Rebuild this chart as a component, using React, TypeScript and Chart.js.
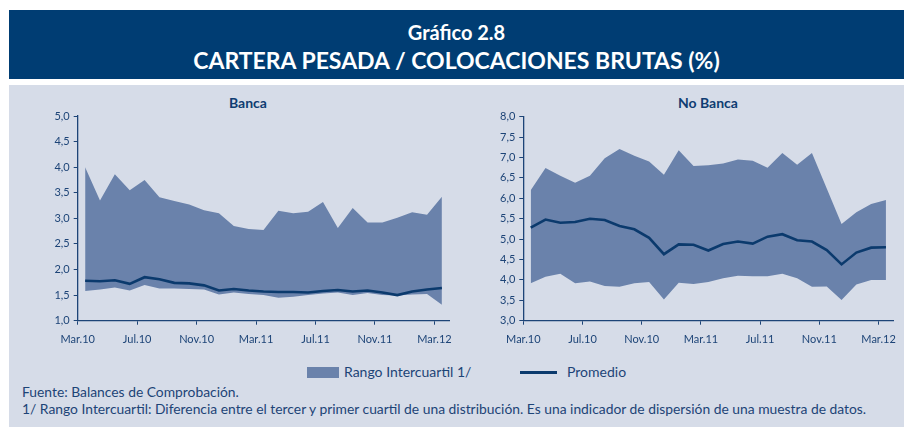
import React, { useEffect, useRef } from "react";
import { Chart, registerables } from "chart.js";

Chart.register(...registerables);

const tickLabels = ["Mar.10", "Jul.10", "Nov.10", "Mar.11", "Jul.11", "Nov.11", "Mar.12"];
const months = [
  "Mar.10", "Abr.10", "May.10", "Jun.10", "Jul.10", "Ago.10", "Sep.10", "Oct.10", "Nov.10", "Dic.10",
  "Ene.11", "Feb.11", "Mar.11", "Abr.11", "May.11", "Jun.11", "Jul.11", "Ago.11", "Sep.11", "Oct.11",
  "Nov.11", "Dic.11", "Ene.12", "Feb.12", "Mar.12",
];

const bancaQ3 = [4.0, 3.35, 3.86, 3.55, 3.75, 3.41, 3.34, 3.27, 3.16, 3.1, 2.85, 2.79, 2.77, 3.15, 3.1, 3.13, 3.32, 2.81, 3.2, 2.92, 2.92, 3.01, 3.12, 3.07, 3.42];
const bancaQ1 = [1.58, 1.61, 1.65, 1.59, 1.7, 1.63, 1.63, 1.62, 1.61, 1.51, 1.55, 1.52, 1.5, 1.45, 1.47, 1.5, 1.53, 1.55, 1.5, 1.54, 1.5, 1.49, 1.51, 1.52, 1.31];
const bancaMean = [1.78, 1.77, 1.79, 1.72, 1.85, 1.81, 1.74, 1.73, 1.69, 1.59, 1.62, 1.59, 1.57, 1.56, 1.56, 1.55, 1.58, 1.6, 1.57, 1.59, 1.55, 1.5, 1.57, 1.61, 1.64];

const noBancaQ3 = [6.2, 6.74, 6.55, 6.38, 6.55, 6.98, 7.21, 7.04, 6.9, 6.58, 7.18, 6.79, 6.81, 6.85, 6.95, 6.92, 6.75, 7.11, 6.82, 7.11, 6.24, 5.37, 5.66, 5.86, 5.96];
const noBancaQ1 = [3.92, 4.08, 4.15, 3.92, 3.96, 3.85, 3.83, 3.92, 3.95, 3.52, 3.93, 3.9, 3.95, 4.04, 4.1, 4.09, 4.09, 4.15, 4.04, 3.83, 3.84, 3.51, 3.89, 4.0, 4.0];
const noBancaMean = [5.28, 5.48, 5.4, 5.42, 5.5, 5.47, 5.32, 5.24, 5.03, 4.63, 4.87, 4.86, 4.72, 4.88, 4.94, 4.89, 5.06, 5.12, 4.97, 4.94, 4.73, 4.38, 4.67, 4.79, 4.8];

const HEADER = "#003d73";
const PANEL = "#d6dce8";
const FILL = "#6a82ab";
const LINE = "#0b3a6d";
const TEXT = "#1d4477";
const FONT = "Lato, 'Open Sans', sans-serif";

type Cfg = {
  q3: number[];
  q1: number[];
  mean: number[];
  yMin: number;
  yMax: number;
  yWidth: number;
  padTop: number;
  padRight: number;
  xHeight: number;
};

function makeChart(canvas: HTMLCanvasElement, c: Cfg) {
  const pts = (arr: number[]) => arr.map((v, i) => ({ x: i, y: v }));
  const tickVals = tickLabels.map((_, i) => -0.5 + 4 * i);
  return new Chart(canvas, {
    type: "line",
    data: {
      datasets: [
        {
          label: "Promedio",
          data: pts(c.mean),
          borderColor: LINE,
          borderWidth: 2.6,
          pointRadius: 0,
          fill: false,
          tension: 0,
        },
        {
          label: "Rango Intercuartil 1/",
          data: pts(c.q3),
          borderWidth: 0,
          borderColor: FILL,
          backgroundColor: FILL,
          pointRadius: 0,
          fill: "+1",
          tension: 0,
        },
        {
          label: "Q1",
          data: pts(c.q1),
          borderWidth: 0,
          borderColor: FILL,
          pointRadius: 0,
          fill: false,
          tension: 0,
        },
      ],
    },
    options: {
      animation: false,
      responsive: false,
      maintainAspectRatio: false,
      layout: { padding: { top: c.padTop, right: c.padRight, left: 0, bottom: 0 } },
      plugins: { legend: { display: false }, tooltip: { enabled: false }, title: { display: false } },
      scales: {
        x: {
          type: "linear",
          min: -0.5,
          max: 24.5,
          afterBuildTicks: (s: any) => {
            s.ticks = tickVals.map((v) => ({ value: v }));
          },
          afterFit: (s: any) => {
            s.height = c.xHeight;
          },
          grid: { drawOnChartArea: false, drawTicks: true, tickLength: 4, color: TEXT, lineWidth: 1 },
          border: { display: true, color: TEXT, width: 1.3 },
          ticks: {
            autoSkip: false,
            maxRotation: 0,
            padding: 8,
            color: TEXT,
            font: { family: FONT, size: 11 },
            callback: (v: any) => tickLabels[Math.round((Number(v) + 0.5) / 4)] ?? "",
          },
        },
        y: {
          min: c.yMin,
          max: c.yMax,
          afterFit: (s: any) => {
            s.width = c.yWidth;
          },
          grid: { drawOnChartArea: false, drawTicks: true, tickLength: 4, color: TEXT, lineWidth: 1 },
          border: { display: true, color: TEXT, width: 1.3 },
          ticks: {
            stepSize: 0.5,
            padding: 4,
            color: TEXT,
            font: { family: FONT, size: 11 },
            callback: (v: any) => Number(v).toFixed(1).replace(".", ","),
          },
        },
      },
    },
  } as any);
}

function Panel(props: { left: number; width: number; title: string; titleX: number; cfg: Cfg }) {
  const ref = useRef<HTMLCanvasElement>(null);
  useEffect(() => {
    if (!ref.current) return;
    const ch = makeChart(ref.current, props.cfg);
    return () => ch.destroy();
  }, []);
  return (
    <>
      <div
        style={{
          position: "absolute",
          left: props.titleX - 100,
          width: 200,
          top: 94,
          textAlign: "center",
          fontFamily: FONT,
          fontWeight: 700,
          fontSize: 14,
          color: "#0f3d72",
        }}
      >
        {props.title}
      </div>
      <canvas
        ref={ref}
        width={props.width}
        height={260}
        style={{ position: "absolute", left: props.left, top: 95, width: props.width, height: 260 }}
      />
    </>
  );
}

export default function App() {
  return (
    <div style={{ position: "absolute", left: 0, top: 0, width: 904, height: 427, background: "#ffffff", overflow: "hidden" }}>
      <div
        style={{
          position: "absolute",
          left: 9,
          top: 10,
          width: 895,
          height: 69,
          background: HEADER,
          color: "#ffffff",
          fontFamily: FONT,
          fontWeight: 700,
          textAlign: "center",
        }}
      >
        <div style={{ position: "absolute", left: 0, right: 0, top: 10, fontSize: 20, lineHeight: "24px" }}>Gráfico 2.8</div>
        <div style={{ position: "absolute", left: 0, right: 0, top: 36, fontSize: 23, lineHeight: "28px" }}>
          CARTERA PESADA / COLOCACIONES BRUTAS (%)
        </div>
      </div>
      <div style={{ position: "absolute", left: 9, top: 85, width: 895, height: 342, background: PANEL }} />
      <Panel
        left={20}
        width={440}
        title="Banca"
        titleX={248}
        cfg={{ q3: bancaQ3, q1: bancaQ1, mean: bancaMean, yMin: 1, yMax: 5, yWidth: 57.7, padTop: 21, padRight: 8, xHeight: 34.3 }}
      />
      <Panel
        left={470}
        width={434}
        title="No Banca"
        titleX={708}
        cfg={{ q3: noBancaQ3, q1: noBancaQ1, mean: noBancaMean, yMin: 3, yMax: 8, yWidth: 53.3, padTop: 21.7, padRight: 5.5, xHeight: 34.3 }}
      />
      <div style={{ position: "absolute", left: 307, top: 367, width: 32, height: 11, background: FILL }} />
      <div style={{ position: "absolute", left: 344, top: 363, fontFamily: FONT, fontSize: 14, lineHeight: "18px", color: TEXT, whiteSpace: "nowrap" }}>
        Rango Intercuartil 1/
      </div>
      <div style={{ position: "absolute", left: 520, top: 371, width: 37, height: 2.5, background: LINE }} />
      <div style={{ position: "absolute", left: 567, top: 363, fontFamily: FONT, fontSize: 14, lineHeight: "18px", color: TEXT, whiteSpace: "nowrap" }}>
        Promedio
      </div>
      <div style={{ position: "absolute", left: 22, top: 383, fontFamily: FONT, fontSize: 13.85, lineHeight: "18px", color: TEXT, whiteSpace: "nowrap" }}>
        Fuente: Balances de Comprobación.
      </div>
      <div style={{ position: "absolute", left: 22, top: 400, fontFamily: FONT, fontSize: 13.85, lineHeight: "18px", color: TEXT, whiteSpace: "nowrap" }}>
        1/ Rango Intercuartil: Diferencia entre el tercer y primer cuartil de una distribución. Es una indicador de dispersión de una muestra de datos.
      </div>
    </div>
  );
}
